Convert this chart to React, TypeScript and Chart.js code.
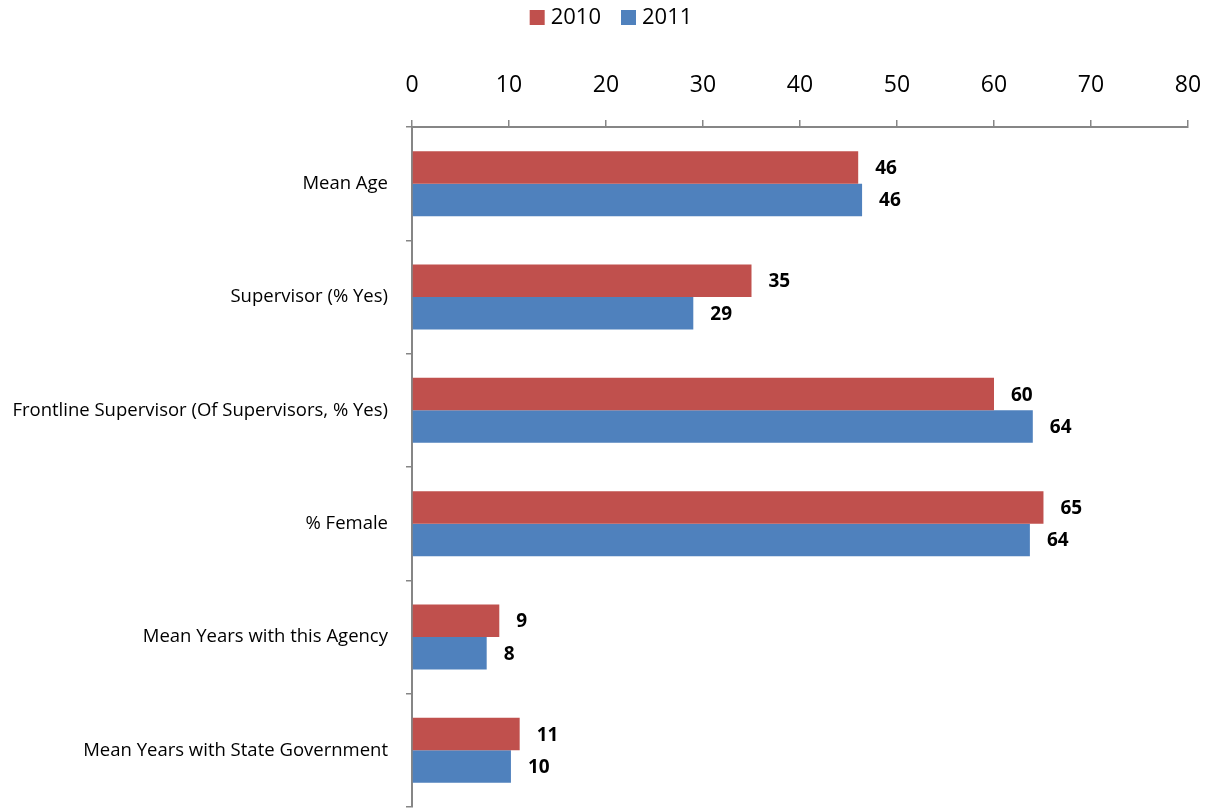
import React, { useEffect, useRef } from "react";
import { Chart, registerables } from "chart.js";

Chart.register(...registerables);

const categories = [
  "Mean Age",
  "Supervisor (% Yes)",
  "Frontline Supervisor (Of Supervisors, % Yes)",
  "% Female",
  "Mean Years with this Agency",
  "Mean Years with State Government",
];
const series2010 = [46.0, 35.0, 60.0, 65.1, 9.0, 11.1];
const series2011 = [46.4, 29.0, 64.0, 63.7, 7.7, 10.2];
const seriesNames = ["2010", "2011"];
const seriesColors = ["#C0504D", "#4F81BD"];
const xTicksMin = 0;
const xTicksMax = 80;
const xTicksStep = 10;

const FONT = "'Open Sans', 'Noto Sans', sans-serif";

const dataLabelPlugin = {
  id: "dataLabels",
  afterDatasetsDraw(chart: any) {
    const ctx = chart.ctx;
    ctx.save();
    ctx.font = `bold 19px ${FONT}`;
    ctx.fillStyle = "#000";
    ctx.textAlign = "left";
    ctx.textBaseline = "middle";
    chart.data.datasets.forEach((ds: any, di: number) => {
      const meta = chart.getDatasetMeta(di);
      meta.data.forEach((el: any, i: number) => {
        const v = ds.data[i];
        ctx.fillText(String(Math.round(v)), el.x + 17, el.y + 1);
      });
    });
    ctx.restore();
  },
};

const customLegendPlugin = {
  id: "customLegend",
  afterDraw(chart: any) {
    const ctx = chart.ctx;
    ctx.save();
    ctx.font = `22px ${FONT}`;
    ctx.textBaseline = "middle";
    ctx.textAlign = "left";
    const box = 15;
    const gapBoxText = 6;
    const gapItems = 20;
    const items = chart.data.datasets.map((ds: any) => ({
      text: ds.label,
      color: ds.backgroundColor,
      w: ctx.measureText(ds.label).width,
    }));
    const total =
      items.reduce((s: number, it: any) => s + box + gapBoxText + it.w, 0) +
      gapItems * (items.length - 1);
    let x = 611 - total / 2;
    const cy = 17.5;
    items.forEach((it: any) => {
      ctx.fillStyle = it.color;
      ctx.fillRect(x, cy - box / 2, box, box);
      x += box + gapBoxText;
      ctx.fillStyle = "#000";
      ctx.fillText(it.text, x, cy);
      x += it.w + gapItems;
    });
    ctx.restore();
  },
};

function zeroPadding(scale: any) {
  scale.paddingLeft = 0;
  scale.paddingRight = 0;
  scale.paddingTop = 0;
  scale.paddingBottom = 0;
}

export default function App() {
  const ref = useRef<HTMLCanvasElement>(null);
  useEffect(() => {
    document.body.style.margin = "0";
    const chart = new Chart(ref.current!, {
      type: "bar",
      data: {
        labels: categories,
        datasets: [
          { label: seriesNames[0], data: series2010, backgroundColor: seriesColors[0] },
          { label: seriesNames[1], data: series2011, backgroundColor: seriesColors[1] },
        ],
      },
      options: {
        indexAxis: "y",
        animation: false,
        responsive: false,
        maintainAspectRatio: false,
        layout: { autoPadding: false, padding: { left: 0, right: 23, top: 0, bottom: 2 } },
        datasets: {
          bar: { categoryPercentage: 0.573, barPercentage: 1.0 },
        },
        plugins: {
          legend: { display: false },
          tooltip: { enabled: false },
        },
        scales: {
          x: {
            position: "top",
            min: xTicksMin,
            max: xTicksMax,
            ticks: {
              stepSize: xTicksStep,
              color: "#000",
              font: { family: FONT, size: 23 },
              padding: 21,
            },
            grid: {
              drawOnChartArea: false,
              drawTicks: true,
              tickLength: 7,
              color: "#868686",
              lineWidth: 1.5,
            },
            border: { display: true, color: "#868686", width: 2 },
            afterFit(scale: any) {
              scale.height = 127;
              zeroPadding(scale);
            },
          },
          y: {
            ticks: {
              color: "#000",
              font: { family: FONT, size: 18.5 },
              padding: 18,
            },
            grid: {
              offset: true,
              drawOnChartArea: false,
              drawTicks: true,
              tickLength: 6,
              color: "#868686",
              lineWidth: 1.5,
            },
            border: { display: true, color: "#868686", width: 2 },
            afterFit(scale: any) {
              scale.width = 412;
              zeroPadding(scale);
            },
          },
        },
      },
      plugins: [dataLabelPlugin, customLegendPlugin],
    });
    return () => chart.destroy();
  }, []);
  return (
    <div style={{ position: "absolute", left: 0, top: 0, width: 1211, height: 809, background: "#fff" }}>
      <canvas ref={ref} width={1211} height={809} />
    </div>
  );
}
